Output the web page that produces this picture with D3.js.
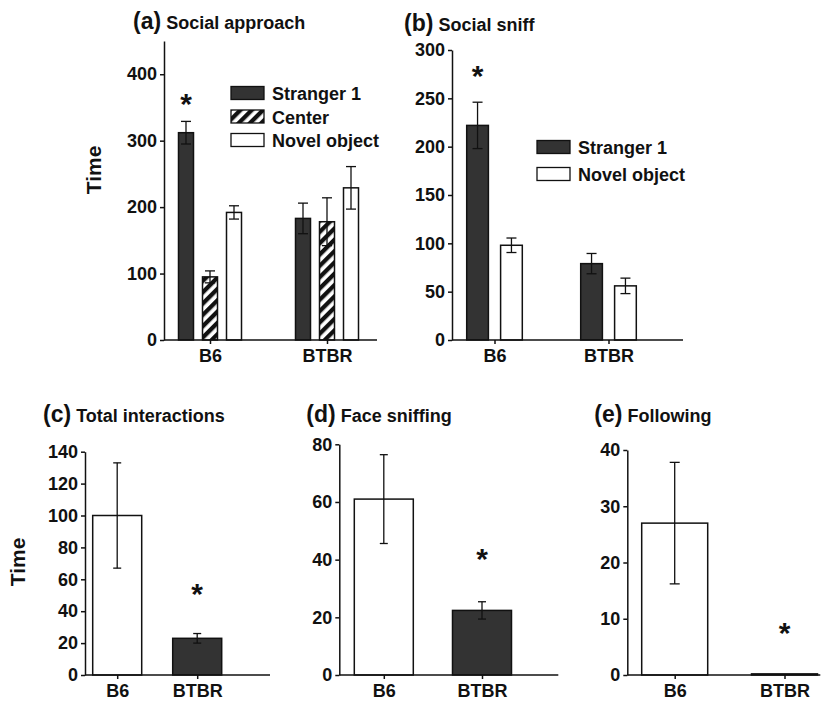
<!DOCTYPE html>
<html>
<head>
<meta charset="utf-8">
<script src="https://cdn.jsdelivr.net/npm/d3@7"></script>
<style>
  body { margin: 0; background: #fff; }
  text { font-family: "Liberation Sans", Arial, sans-serif; font-weight: bold; fill: #111; }
</style>
</head>
<body>
<svg id="chart" width="830" height="703"></svg>
<script>
// ---- data ----
var groups = ['B6', 'BTBR']

// (a) social approach
var approachSeries = ['Stranger 1', 'Center', 'Novel object']
var approachMean = [[312, 95, 192], [183, 178, 229]]
var approachErr = [[17, 9, 10], [23, 36, 32]]
var approachTicks = [0, 100, 200, 300, 400]

// (b) social sniff
var sniffSeries = ['Stranger 1', 'Novel object']
var sniffMean = [[222, 98], [79, 56]]
var sniffErr = [[24, 7.5], [10.5, 8]]
var sniffTicks = [0, 50, 100, 150, 200, 250, 300]

// (c) total interactions
var totalMean = [100, 23]
var totalErr = [33, 3]
var totalTicks = [0, 20, 40, 60, 80, 100, 120, 140]

// (d) face sniffing
var faceMean = [61, 22.4]
var faceErr = [15.4, 3]
var faceTicks = [0, 20, 40, 60, 80]

// (e) following
var followMean = [27, 0.2]
var followErr = [10.8, 0]
var followTicks = [0, 10, 20, 30, 40]

var svg = d3.select('#chart')
var dark = '#333'

// hatch for "Center"
svg.append('defs').append('pattern')
    .attr('id', 'hatch')
    .attr('patternUnits', 'userSpaceOnUse')
    .attr('width', 8).attr('height', 8)
    .attr('patternTransform', 'rotate(45)')
  .call(function(p) {
      p.append('rect').attr('width', 8).attr('height', 8).attr('fill', '#fff')
      p.append('rect').attr('width', 4.3).attr('height', 8).attr('fill', '#111')
  })

var seriesFill = {'Stranger 1': dark, 'Center': 'url(#hatch)', 'Novel object': '#fff'}
var groupFill = {'B6': '#fff', 'BTBR': dark}

function drawPanel(o) {
    var g = svg.append('g').attr('transform', 'translate(' + o.left + ',0)')

    var y = d3.scaleLinear().domain([0, o.max]).range([o.bottom, o.top])
    var x = d3.scalePoint().domain(groups).range(o.centers)
    var xs = d3.scaleBand().domain(o.series).range([-o.groupW / 2, o.groupW / 2]).paddingInner(o.gap)

    // flatten rows
    var rows = []
    groups.forEach(function(grp, i) {
        o.series.forEach(function(s, j) {
            rows.push({grp: grp, s: s, v: o.mean[i][j], e: o.err[i][j]})
        })
    })

    var bars = g.selectAll('g.bar').data(rows).enter().append('g')
    bars.append('rect')
        .attr('x', function(d) { return x(d.grp) + xs(d.s) })
        .attr('width', xs.bandwidth())
        .attr('y', function(d) { return y(d.v) })
        .attr('height', function(d) { return y(0) - y(d.v) })
        .attr('fill', function(d) { return o.fill(d) })
        .attr('stroke', '#111').attr('stroke-width', 1.5)

    var errRows = rows.filter(function(d) { return d.e > 0 })
    var eb = g.selectAll('g.err').data(errRows).enter().append('g')
        .attr('stroke', '#111').attr('stroke-width', 1.3)
    function cx(d) { return x(d.grp) + xs(d.s) + xs.bandwidth() / 2 }
    eb.append('line')
        .attr('x1', cx).attr('x2', cx)
        .attr('y1', function(d) { return y(d.v + d.e) })
        .attr('y2', function(d) { return y(d.v - d.e) })
    ;[1, -1].forEach(function(sg) {
        eb.append('line')
            .attr('x1', function(d) { return cx(d) - o.cap }).attr('x2', function(d) { return cx(d) + o.cap })
            .attr('y1', function(d) { return y(d.v + sg * d.e) })
            .attr('y2', function(d) { return y(d.v + sg * d.e) })
    })

    // axes
    var yAxis = d3.axisLeft(y).tickValues(o.ticks).tickSize(4).tickSizeOuter(0).tickPadding(3)
    var ya = g.append('g').call(yAxis)
    ya.selectAll('text').style('font-size', '18px').attr('font-family', null)
    ya.selectAll('path,line').attr('stroke', '#111').attr('stroke-width', 1.5)

    var xa = g.append('g').attr('transform', 'translate(0,' + o.bottom + ')')
        .call(d3.axisBottom(x).tickSize(4).tickPadding(5))
    xa.select('.domain').remove()
    xa.selectAll('text').style('font-size', '18px').attr('font-family', null)
    xa.selectAll('line').attr('stroke', '#111').attr('stroke-width', 1.5)
    g.append('line')
        .attr('x1', 0).attr('x2', o.width)
        .attr('y1', o.bottom).attr('y2', o.bottom)
        .attr('stroke', '#111').attr('stroke-width', 1.5)

    // title
    var t = g.append('text').attr('x', o.titleX).attr('y', o.titleY)
    t.append('tspan').style('font-size', '23px').text(o.tag)
    t.append('tspan').style('font-size', '18px').attr('dx', 5).text(o.title)

    // significance star
    g.append('text')
        .attr('x', x(o.star[0]) + xs(o.star[1]) + xs.bandwidth() / 2)
        .attr('y', y(o.star[2]) + 16)
        .attr('text-anchor', 'middle')
        .style('font-size', '30px')
        .text('*')

    if (o.yLabel) {
        g.append('text')
            .attr('transform', 'translate(' + o.yLabel[0] + ',' + o.yLabel[1] + ') rotate(-90)')
            .attr('text-anchor', 'middle')
            .style('font-size', '21px')
            .text('Time')
    }

    if (o.legend) {
        var lg = g.append('g').attr('transform', 'translate(' + o.legend[0] + ',' + o.legend[1] + ')')
        var items = lg.selectAll('g').data(o.series).enter().append('g')
            .attr('transform', function(d, i) { return 'translate(0,' + i * o.legend[2] + ')' })
        items.append('rect')
            .attr('x', 0).attr('y', -6.5).attr('width', 33).attr('height', 13)
            .attr('fill', function(d) { return seriesFill[d] })
            .attr('stroke', '#111').attr('stroke-width', 1.3)
        items.append('text')
            .attr('x', 41).attr('y', 7)
            .style('font-size', '18px')
            .text(function(d) { return d })
    }
}

drawPanel({
    left: 164, width: 213, top: 41, bottom: 340, max: 450, ticks: approachTicks,
    centers: [46, 163], groupW: 63, gap: 0.375, cap: 5,
    series: approachSeries, mean: approachMean, err: approachErr,
    fill: function(d) { return seriesFill[d.s] },
    tag: '(a)', title: 'Social approach', titleX: -31, titleY: 29,
    star: ['B6', 'Stranger 1', 364], yLabel: [-63, 170], legend: [67, 93, 23.5]
})

drawPanel({
    left: 452, width: 231, top: 50, bottom: 340, max: 300, ticks: sniffTicks,
    centers: [42.5, 156.5], groupW: 55.6, gap: 0.36, cap: 5,
    series: sniffSeries, mean: sniffMean, err: sniffErr,
    fill: function(d) { return seriesFill[d.s] },
    tag: '(b)', title: 'Social sniff', titleX: -48, titleY: 31,
    star: ['B6', 'Stranger 1', 279], legend: [85, 147, 27]
})

function single(arr) { return arr.map(function(v) { return [v] }) }

drawPanel({
    left: 85, width: 185, top: 451.7, bottom: 675, max: 140, ticks: totalTicks,
    centers: [32.2, 112.2], groupW: 49, gap: 0, cap: 4,
    series: ['v'], mean: single(totalMean), err: single(totalErr),
    fill: function(d) { return groupFill[d.grp] },
    tag: '(c)', title: 'Total interactions', titleX: -42, titleY: 422,
    star: ['BTBR', 'v', 54.4], yLabel: [-60, 562]
})

drawPanel({
    left: 339.3, width: 219, top: 444.3, bottom: 675, max: 80, ticks: faceTicks,
    centers: [44.5, 142.7], groupW: 59, gap: 0, cap: 4,
    series: ['v'], mean: single(faceMean), err: single(faceErr),
    fill: function(d) { return groupFill[d.grp] },
    tag: '(d)', title: 'Face sniffing', titleX: -33, titleY: 422,
    star: ['BTBR', 'v', 42.2]
})

drawPanel({
    left: 627.3, width: 193, top: 450, bottom: 675, max: 40, ticks: followTicks,
    centers: [47.4, 157.2], groupW: 66, gap: 0, cap: 5,
    series: ['v'], mean: single(followMean), err: single(followErr),
    fill: function(d) { return groupFill[d.grp] },
    tag: '(e)', title: 'Following', titleX: -33, titleY: 422,
    star: ['BTBR', 'v', 8.6]
})
</script>
</body>
</html>
